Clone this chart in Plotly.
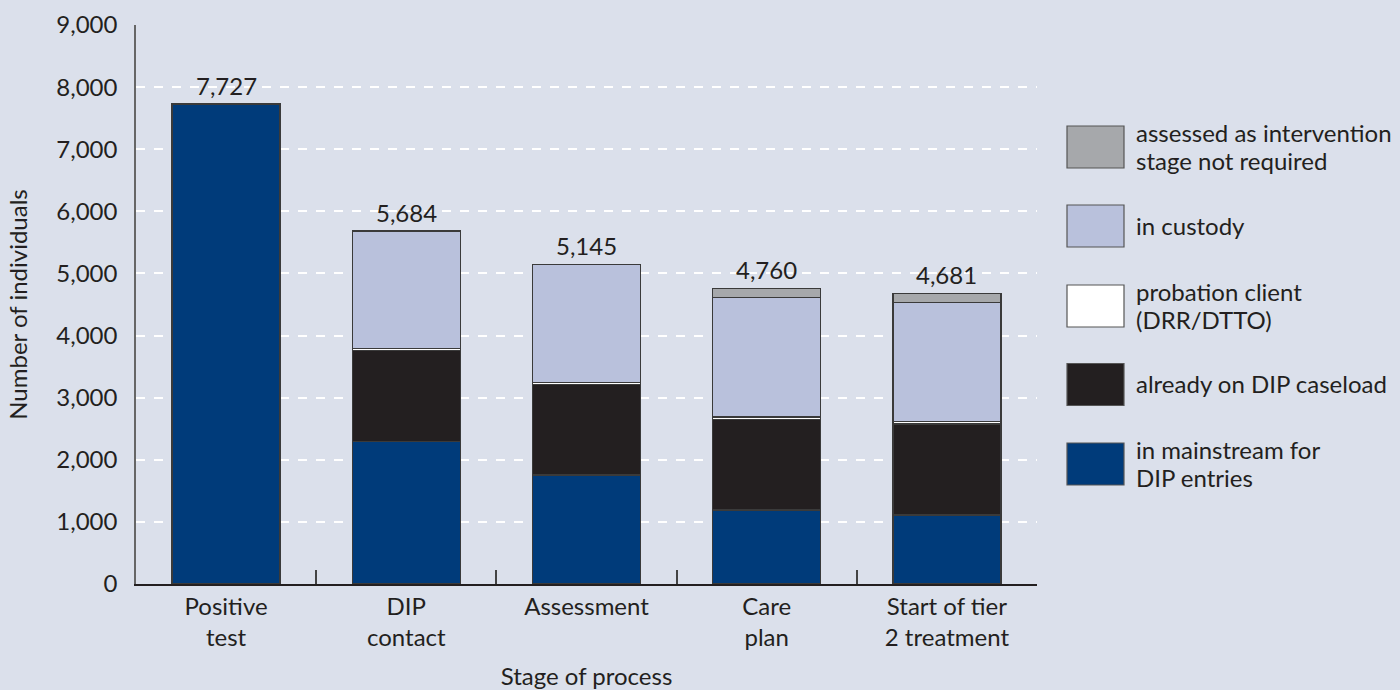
import plotly.graph_objects as go

categories = ["Positive<br>test", "DIP<br>contact", "Assessment", "Care<br>plan", "Start of tier<br>2 treatment"]
totals = [7727, 5684, 5145, 4760, 4681]
mainstream = [7727, 2290, 1755, 1190, 1110]
caseload = [0, 1465, 1455, 1460, 1465]
probation = [0, 35, 35, 40, 40]
custody = [0, 1894, 1900, 1927, 1921]
assessed = [0, 0, 0, 143, 145]

series_names = ["in mainstream for<br>DIP entries", "already on DIP caseload",
                "probation client<br>(DRR/DTTO)", "in custody",
                "assessed as intervention<br>stage not required"]
series_vals = [mainstream, caseload, probation, custody, assessed]
series_cols = ["#003B7A", "#231F20", "#FFFFFF", "#B9C1DC", "#A6A8AB"]

BG = "#DBE0EB"
FONT = "Lato"
FS = 24
W, H = 1400, 690
L, R, T, B = 136, 363, 25, 106

fig = go.Figure()
for name, vals, col in zip(series_names, series_vals, series_cols):
    fig.add_trace(go.Bar(
        x=categories, y=vals, name=name,
        marker=dict(color=col, line=dict(color="#3a3a3a", width=1.4)),
        width=0.6, showlegend=False, hoverinfo="skip"))

for c, t in zip(categories, totals):
    fig.add_annotation(x=c, y=t, text=f"{t:,}", showarrow=False,
                       yanchor="bottom", yshift=2,
                       font=dict(family=FONT, size=FS, color="#231F20"))

# custom legend (large swatches)
pw = W - L - R
ph = H - T - B
def px2x(px):
    return (px - L) / pw
def py2y(py):
    return (H - B - py) / ph

centers = [147, 226, 306, 384.5, 464]
leg_order = [4, 3, 2, 1, 0]
for c, idx in zip(centers, leg_order):
    fig.add_shape(type="rect", xref="paper", yref="paper",
                  x0=px2x(1067), x1=px2x(1124), y0=py2y(c + 21), y1=py2y(c - 21),
                  fillcolor=series_cols[idx], line=dict(color="#555555", width=1.2))
    lines = series_names[idx].split("<br>")
    n = len(lines)
    for k, line in enumerate(lines):
        yc = c - 1 + (k - (n - 1) / 2) * 28
        fig.add_annotation(xref="paper", yref="paper", x=px2x(1134), y=py2y(yc),
                           text=line, showarrow=False, xanchor="left",
                           yanchor="middle", align="left",
                           font=dict(family=FONT, size=FS, color="#231F20"))

fig.update_layout(
    width=W, height=H, margin=dict(l=L, r=R, t=T, b=B),
    paper_bgcolor=BG, plot_bgcolor=BG, barmode="stack", bargap=0.4,
    font=dict(family=FONT, size=FS, color="#231F20"),
    xaxis=dict(type="category", categoryorder="array", categoryarray=categories,
               range=[-0.5, 4.5], showgrid=False, zeroline=False, automargin=False,
               showline=True, linecolor="#231F20", linewidth=2,
               ticks="inside", tickson="boundaries", ticklen=14, tickcolor="#444444", tickwidth=1.5,
               title=dict(text="Stage of process", standoff=19,
                          font=dict(family=FONT, size=FS))),
    yaxis=dict(range=[0, 9000], tickvals=list(range(0, 9001, 1000)), automargin=False,
               tickformat=",d", showgrid=True, gridcolor="#FFFFFF", griddash="dash", gridwidth=1.5,
               zeroline=False, showline=True, linecolor="#666666", linewidth=1.5,
               ticks="", ticklabelstandoff=12,
               title=dict(text="Number of individuals", standoff=22,
                          font=dict(family=FONT, size=FS))),
)

fig.write_html("out.html")
